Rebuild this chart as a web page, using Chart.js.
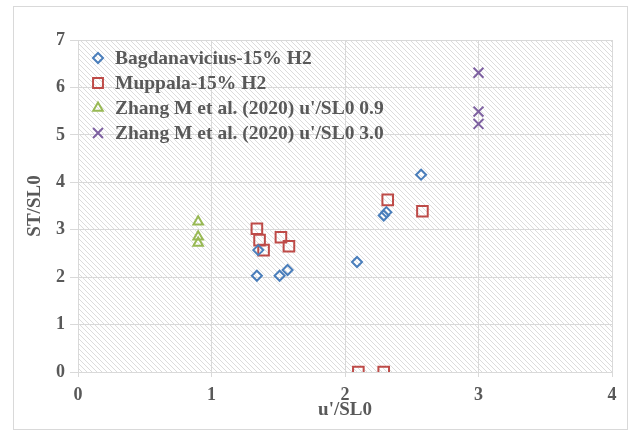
<!DOCTYPE html>
<html>
<head>
<meta charset="utf-8">
<script src="https://cdn.jsdelivr.net/npm/chart.js@4/dist/chart.umd.min.js"></script>
<style>
  html, body { margin: 0; padding: 0; background: #fff; }
  #wrap { width: 630px; height: 431px; position: relative; }
</style>
</head>
<body>
<div id="wrap"><canvas id="c" width="630" height="431"></canvas></div>
<script>
// Series labels
const seriesLabels = [
  'Bagdanavicius-15% H2',
  'Muppala-15% H2',
  "Zhang M et al. (2020) u'/SL0 0.9",
  "Zhang M et al. (2020) u'/SL0 3.0"
];

// Bagdanavicius-15% H2
const bagX = [1.34, 1.35, 1.51, 1.57, 2.09, 2.29, 2.31, 2.57];
const bagY = [2.03, 2.57, 2.03, 2.15, 2.32, 3.30, 3.37, 4.16];

// Muppala-15% H2
const mupX = [1.34, 1.36, 1.39, 1.52, 1.58, 2.32, 2.58, 2.10, 2.29];
const mupY = [3.02, 2.78, 2.57, 2.84, 2.65, 3.63, 3.39, 0, 0];

// Zhang M et al. (2020), u'/SL0 = 0.9
const zh09X = [0.9, 0.9, 0.9];
const zh09Y = [3.17, 2.85, 2.72];

// Zhang M et al. (2020), u'/SL0 = 3.0
const zh30X = [3.0, 3.0, 3.0];
const zh30Y = [6.31, 5.49, 5.23];

// Axis ticks
const xTicks = [0, 1, 2, 3, 4];
const yTicks = [0, 1, 2, 3, 4, 5, 6, 7];

const toPoints = (xs, ys) => xs.map((x, i) => ({ x: x, y: ys[i] }));

const TEXT = '#595959';
const GRID = '#d9d9d9';
const SERIF = "'Liberation Serif', 'Times New Roman', serif";

// Diagonal hatch fill behind the plot area
function makeHatch(ctx) {
  const s = 5;
  const t = document.createElement('canvas');
  t.width = s; t.height = s;
  const g = t.getContext('2d');
  g.fillStyle = '#ffffff';
  g.fillRect(0, 0, s, s);
  g.strokeStyle = '#dcdcdc';
  g.lineWidth = 1;
  g.beginPath();
  g.moveTo(0, 0); g.lineTo(s, s);
  g.moveTo(-1, s - 1); g.lineTo(1, s + 1);
  g.moveTo(s - 1, -1); g.lineTo(s + 1, 1);
  g.stroke();
  return ctx.createPattern(t, 'repeat');
}

const hatchPlugin = {
  id: 'hatch',
  beforeDraw(chart) {
    const { ctx, chartArea: a } = chart;
    ctx.save();
    ctx.fillStyle = makeHatch(ctx);
    ctx.fillRect(a.left, a.top, a.right - a.left, a.bottom - a.top);
    ctx.restore();
  },
  afterDraw(chart) {
    const ctx = chart.ctx;
    ctx.save();
    ctx.strokeStyle = '#d9d9d9';
    ctx.lineWidth = 1;
    ctx.strokeRect(13.5, 6.5, 614, 423);
    ctx.restore();
  }
};

// Legend drawn inside the plot area, upper left
const insideLegend = {
  id: 'insideLegend',
  afterDatasetsDraw(chart) {
    const { ctx, chartArea: a } = chart;
    const x0 = a.left + 20;
    const y0 = a.top + 18;
    const step = 25;
    ctx.save();
    ctx.font = 'bold 19.5px ' + SERIF;
    ctx.textBaseline = 'middle';
    ctx.textAlign = 'left';
    chart.data.datasets.forEach((ds, i) => {
      const y = y0 + i * step;
      ctx.strokeStyle = ds.borderColor;
      ctx.fillStyle = 'rgba(0,0,0,0)';
      ctx.lineWidth = 2;
      Chart.helpers.drawPoint(ctx, {
        pointStyle: ds.pointStyle,
        radius: ds.legendRadius,
        rotation: 0,
        borderWidth: 2
      }, x0, y);
      ctx.fillStyle = TEXT;
      ctx.fillText(ds.label, x0 + 17, y + 1);
    });
    ctx.restore();
  }
};

const tickFont = { family: SERIF, size: 18, weight: 'bold' };
const titleFont = { family: SERIF, size: 19, weight: 'bold' };

new Chart(document.getElementById('c'), {
  type: 'scatter',
  data: {
    datasets: [
      {
        label: seriesLabels[0],
        data: toPoints(bagX, bagY),
        pointStyle: 'rectRot',
        pointRadius: 5,
        legendRadius: 5,
        borderColor: '#4a7ebb',
        backgroundColor: 'rgba(0,0,0,0)',
        pointBorderWidth: 2
      },
      {
        label: seriesLabels[1],
        data: toPoints(mupX, mupY),
        pointStyle: 'rect',
        pointRadius: 7.5,
        legendRadius: 7,
        borderColor: '#be4b48',
        backgroundColor: 'rgba(0,0,0,0)',
        pointBorderWidth: 2
      },
      {
        label: seriesLabels[2],
        data: toPoints(zh09X, zh09Y),
        pointStyle: 'triangle',
        pointRadius: 5.5,
        legendRadius: 5.5,
        borderColor: '#98b954',
        backgroundColor: 'rgba(0,0,0,0)',
        pointBorderWidth: 2
      },
      {
        label: seriesLabels[3],
        data: toPoints(zh30X, zh30Y),
        pointStyle: 'crossRot',
        pointRadius: 7,
        legendRadius: 7,
        borderColor: '#7d60a0',
        backgroundColor: 'rgba(0,0,0,0)',
        pointBorderWidth: 2
      }
    ]
  },
  options: {
    responsive: false,
    animation: false,
    layout: { padding: { left: 24, top: 40, right: 18, bottom: 10 } },
    plugins: {
      legend: { display: false },
      tooltip: { enabled: false }
    },
    scales: {
      x: {
        type: 'linear',
        min: xTicks[0],
        max: xTicks[xTicks.length - 1],
        afterBuildTicks(s) { s.ticks = xTicks.map(v => ({ value: v })); },
        afterFit(s) { s.height = 49; },
        grid: { color: GRID, tickLength: 5, drawTicks: true },
        border: { color: GRID },
        ticks: { color: TEXT, font: tickFont, padding: 8, maxRotation: 0 },
        title: {
          display: true,
          text: "u'/SL0",
          color: TEXT,
          font: titleFont,
          padding: { top: 0, bottom: 0 }
        }
      },
      y: {
        type: 'linear',
        min: yTicks[0],
        max: yTicks[yTicks.length - 1],
        afterBuildTicks(s) { s.ticks = yTicks.map(v => ({ value: v })); },
        afterFit(s) { s.width = 54; },
        grid: { color: GRID, tickLength: 8 },
        border: { color: GRID },
        ticks: { color: TEXT, font: tickFont, padding: 5 },
        title: {
          display: true,
          text: 'ST/SL0',
          color: TEXT,
          font: titleFont,
          padding: { top: 0, bottom: 0 }
        }
      }
    }
  },
  plugins: [hatchPlugin, insideLegend]
});
</script>
</body>
</html>
